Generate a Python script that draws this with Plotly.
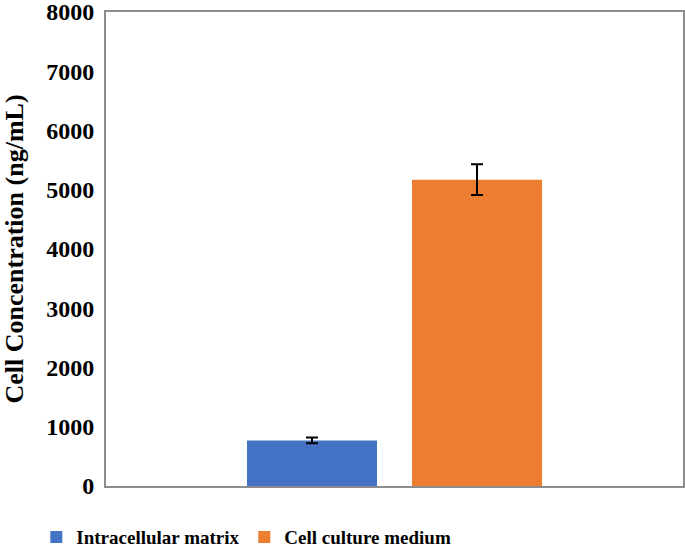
import plotly.graph_objects as go

categories = ["Sample"]
series_names = ["Intracellular matrix", "Cell culture medium"]
means = [770, 5170]
errors = [50, 260]
colors = ["#4472C4", "#ED7D31"]

fig = go.Figure()
for name, m, e, c in zip(series_names, means, errors, colors):
    fig.add_trace(go.Bar(
        x=categories, y=[m], name=f"<b>{name}</b>",
        marker=dict(color=c, line=dict(width=0)),
        error_y=dict(type="data", array=[e], color="black", thickness=2, width=6),
    ))

fig.update_layout(
    barmode="group",
    bargap=0.428,
    bargroupgap=0.212,
    width=685, height=548,
    margin=dict(l=106, r=2, t=12, b=62, autoexpand=False),
    plot_bgcolor="white", paper_bgcolor="white",
    font=dict(family="Liberation Serif", color="black", size=20),
    legend=dict(orientation="h", xref="container", x=0.053, xanchor="left",
                yref="container", y=0.02, yanchor="middle",
                font=dict(size=19, family="Liberation Serif"), itemwidth=30,
                entrywidth=163, traceorder="normal"),
    showlegend=True,
)
fig.update_xaxes(showticklabels=False, showline=True, linecolor="#8c8c8c", linewidth=2,
                 mirror=True, ticks="", automargin=False)
fig.update_yaxes(range=[0, 8000], dtick=1000, showgrid=False, zeroline=False,
                 showline=True, linecolor="#8c8c8c", linewidth=2, mirror=True, ticks="",
                 tickfont=dict(size=24, family="Liberation Serif"), ticklabelstandoff=5,
                 tickprefix="<b>", ticksuffix="</b>", automargin=False,
                 ticklabeloverflow="allow",
                 title=dict(text="<b>Cell Concentration (ng/mL)</b>",
                            font=dict(size=26, family="Liberation Serif"), standoff=17))

# page body has a default 8px margin, drop it so the figure fills the window
fig.write_html("out.html", config={"displayModeBar": False},
               post_script="document.body.style.margin='0';")
